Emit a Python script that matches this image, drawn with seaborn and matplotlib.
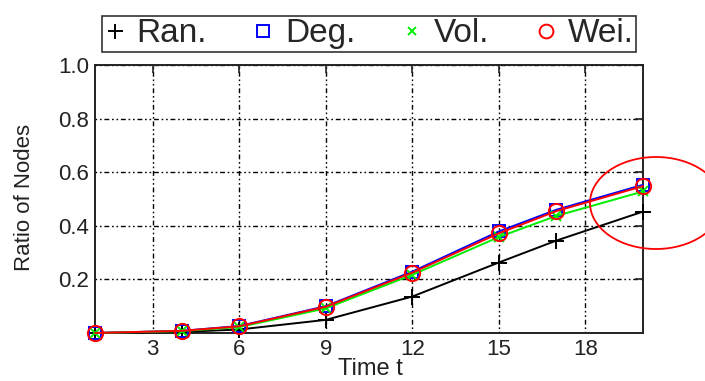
import matplotlib
matplotlib.use("Agg")
import matplotlib.pyplot as plt
import seaborn as sns
import pandas as pd
from matplotlib.patches import Ellipse

time_t = [1, 4, 6, 9, 12, 15, 17, 20]
ran = [0.0, 0.004, 0.013, 0.049, 0.136, 0.263, 0.345, 0.453]
deg = [0.0, 0.008, 0.026, 0.100, 0.229, 0.379, 0.460, 0.553]
vol = [0.0, 0.007, 0.022, 0.092, 0.217, 0.358, 0.437, 0.528]
wei = [0.0, 0.008, 0.025, 0.098, 0.225, 0.372, 0.455, 0.548]
series_names = ["Ran.", "Deg.", "Vol.", "Wei."]
x_ticks = [3, 6, 9, 12, 15, 18]
y_ticks = [0.2, 0.4, 0.6, 0.8, 1.0]

sns.set_theme(style="white")
plt.rcParams['font.family'] = ['Liberation Sans', 'DejaVu Sans']

fig = plt.figure(figsize=(7.05, 3.81), dpi=100)
ax = fig.add_axes([95/705, 48/381, (643-95)/705, (333-65)/381])

styles = {
    "Ran.": dict(color="black", marker="+", ms=12, mew=1.4, mfc="none"),
    "Deg.": dict(color="#0000ff", marker="s", ms=9, mew=1.4, mfc="none"),
    "Vol.": dict(color="#00ee00", marker="x", ms=7, mew=1.4, mfc="none"),
    "Wei.": dict(color="#ff0000", marker="o", ms=11, mew=1.4, mfc="none"),
}
data = {"Ran.": ran, "Deg.": deg, "Vol.": vol, "Wei.": wei}
for name in series_names:
    df = pd.DataFrame({"t": time_t, "v": data[name]})
    st = styles[name]
    sns.lineplot(data=df, x="t", y="v", ax=ax, color=st["color"], lw=1.4,
                 marker=st["marker"], markersize=st["ms"], markeredgewidth=st["mew"],
                 markerfacecolor=st["mfc"], markeredgecolor=st["color"], label=name,
                 clip_on=False, zorder=3)

ax.set_xlim(1, 20)
ax.set_ylim(0, 1.0)
ax.set_xticks(x_ticks)
ax.set_yticks(y_ticks)
ax.set_yticklabels([f"{v:.1f}" for v in y_ticks])
ax.grid(True, color="black", linestyle=(0, (1.2, 2.0, 1.2, 2.0, 3.5, 2.0)), lw=1.0)
for s in ax.spines.values():
    s.set_color("#222222")
    s.set_linewidth(1.4)
ax.tick_params(direction="in", length=6, width=1.2, colors="#222222", labelsize=16,
               top=True, right=True, labelcolor="#222222", pad=4)
ax.set_xlabel("Time t", fontsize=17, color="#222222")
ax.xaxis.set_label_coords(0.502, -0.095)
ax.set_ylabel("Ratio of Nodes", fontsize=16, color="#222222", va="center")
ax.yaxis.set_label_coords(-0.128, 0.506)

leg = ax.legend(loc="lower center", bbox_to_anchor=(0.5, 1.048), ncol=4, fontsize=24,
                frameon=True, fancybox=False, edgecolor="black", handlelength=0.6,
                handletextpad=0.35, columnspacing=1.4, borderpad=0.08, borderaxespad=0,
                markerscale=0.9)
leg.get_frame().set_linewidth(1.2)
for line in leg.get_lines():
    line.set_linestyle("none")

ell = Ellipse((656/705, 1 - 203/381), 132/705, 92/381, transform=fig.transFigure,
              fill=False, edgecolor="#ff0000", lw=1.3)
fig.add_artist(ell)

fig.savefig("out.png", dpi=100)
